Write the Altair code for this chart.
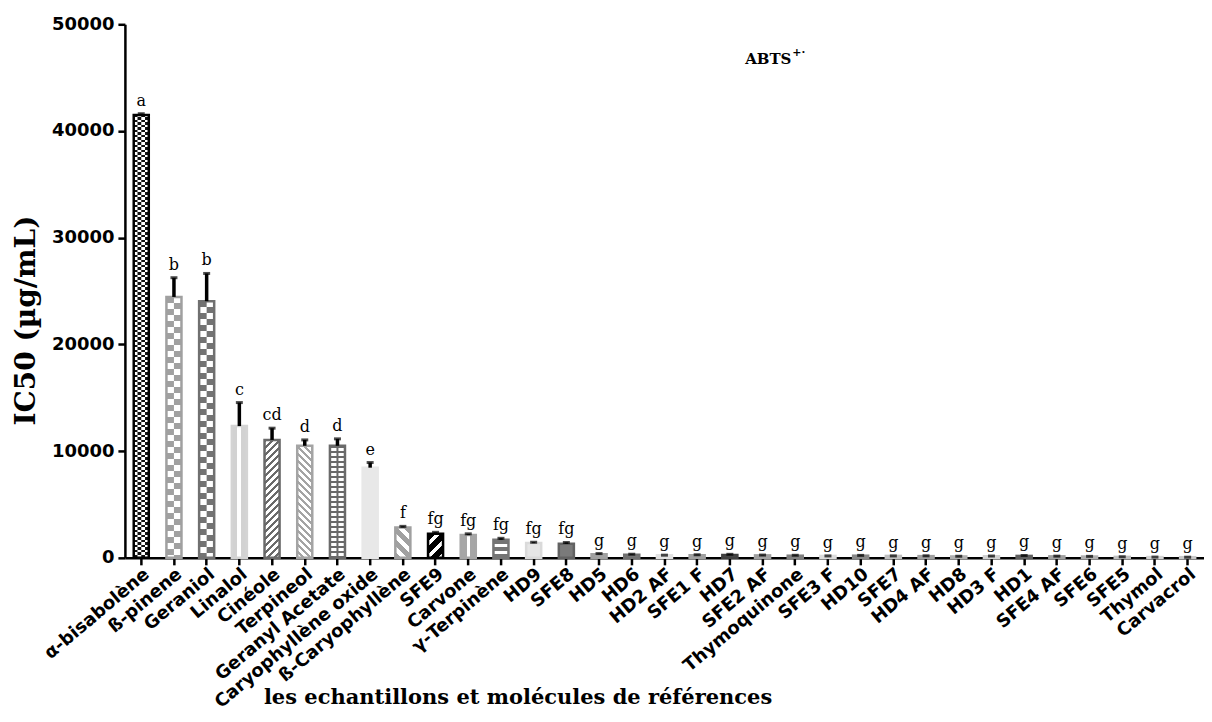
import altair as alt
import pandas as pd

categories = [
    "α-bisabolène", "ß-pinene", "Geraniol", "Linalol", "Cinéole", "Terpineol",
    "Geranyl Acetate", "Caryophyllène oxide", "ß-Caryophyllène", "SFE9", "Carvone",
    "γ-Terpinène", "HD9", "SFE8", "HD5", "HD6", "HD2 AF", "SFE1 F", "HD7", "SFE2 AF",
    "Thymoquinone", "SFE3 F", "HD10", "SFE7", "HD4 AF", "HD8", "HD3 F", "HD1",
    "SFE4 AF", "SFE6", "SFE5", "Thymol", "Carvacrol",
]
means = [
    41500, 24450, 24050, 12350, 11050, 10500, 10500, 8450, 2850, 2250, 2150,
    1700, 1380, 1320, 340, 290, 250, 250, 270, 230, 200, 180, 200, 180, 160,
    130, 150, 180, 140, 120, 90, 70, 60,
]
sds = [
    120, 1800, 2600, 2200, 1100, 550, 650, 480, 100, 140, 100, 130, 80, 120,
    60, 50, 0, 40, 60, 30, 40, 0, 30, 0, 30, 20, 20, 40, 20, 20, 10, 0, 0,
]
letters = [
    "a", "b", "b", "c", "cd", "d", "d", "e", "f", "fg", "fg", "fg", "fg", "fg",
    "g", "g", "g", "g", "g", "g", "g", "g", "g", "g", "g", "g", "g", "g", "g",
    "g", "g", "g", "g",
]

# ---- styles (kept apart from the data) ----
fill_range = [
    "#666666", "#cdcdcd", "#ababab", "#e2e2e2", "#a6a6a6", "#cfcfcf", "#a2a2a2",
    "#e8e8e8", "#d2d2d2", "#6e6e6e", "#bcbcbc", "#a6a6a6", "#e6e6e6", "#7a7a7a",
    "#a4a4a4", "#7a7a7a", "#e6e6e6", "#a8a8a8", "#555555", "#a8a8a8", "#8a8a8a",
    "#e2e2e2", "#8c8c8c", "#c8c8c8", "#a8a8a8", "#bdbdbd", "#d8d8d8", "#707070",
    "#a8a8a8", "#b8b8b8", "#c8c8c8", "#dcdcdc", "#cfcfcf",
]
stroke_range = [
    "#000000", "#a0a0a0", "#707070", "#d4d4d4", "#6a6a6a", "#a4a4a4", "#6a6a6a",
    "#e8e8e8", "#a0a0a0", "#000000", "#a6a6a6", "#747474", "#dadada", "#626262",
    "#a0a0a0", "#707070", "#e2e2e2", "#a0a0a0", "#404040", "#a0a0a0", "#808080",
    "#dcdcdc", "#888888", "#c0c0c0", "#a0a0a0", "#b0b0b0", "#d0d0d0", "#606060",
    "#a0a0a0", "#b0b0b0", "#c0c0c0", "#d4d4d4", "#c8c8c8",
]

title_main = "ABTS"
title_sup = "+·"
x_title = "les echantillons et molécules de références"
y_title = "IC50 (µg/mL)"

PLOT_W, PLOT_H = 1080, 534
Y_MAX = 50000
P_IN, P_OUT = 0.54, 0.27
STEP = PLOT_W / (len(categories) - P_IN + 2 * P_OUT)
BAR_W = STEP * (1 - P_IN)

df = pd.DataFrame({"cat": categories, "mean": means, "sd": sds, "letter": letters})
df["top"] = df["mean"] + df["sd"]

x_enc = alt.X(
    "cat:N",
    sort=categories,
    scale=alt.Scale(paddingInner=P_IN, paddingOuter=P_OUT),
    axis=alt.Axis(
        title=x_title,
        titleFont="DejaVu Serif",
        titleFontSize=21,
        titleFontWeight="bold",
        titleColor="black",
        titleX=393,
        titleY=140,
        titleBaseline="middle",
        titleAlign="center",
        labelAngle=-40,
        labelAlign="right",
        labelBaseline="top",
        labelFont="DejaVu Sans",
        labelFontWeight="bold",
        labelFontSize=18,
        labelColor="black",
        labelPadding=0,
        labelLimit=400,
        labelOverlap=False,
        tickSize=7,
        tickWidth=2.5,
        tickColor="black",
        domainWidth=2.5,
        domainColor="black",
    ),
)
x_plain = alt.X("cat:N", sort=categories)
y_scale = alt.Scale(domain=[0, Y_MAX], nice=False)
y_axis = alt.Axis(
    title=y_title,
    titleFont="DejaVu Serif",
    titleFontSize=28,
    titleFontWeight="bold",
    titleColor="black",
    titleX=-98,
    titleY=296,
    titleAngle=270,
    titleAlign="center",
    titleBaseline="middle",
    values=[0, 10000, 20000, 30000, 40000, 50000],
    format="d",
    labelFont="DejaVu Sans",
    labelFontWeight="bold",
    labelFontSize=18,
    labelColor="black",
    labelPadding=4,
    tickSize=7,
    tickWidth=2.5,
    tickColor="black",
    domainWidth=2.5,
    domainColor="black",
    grid=False,
)

base = alt.Chart(df)

# ---- pattern helpers (fill gradients emulating the hatch patterns) ----
def band_stops(parts, period, length):
    stops, pos = [], 0.0
    while pos < length - 1e-6:
        for color, frac in parts:
            a = pos / length
            b = min((pos + frac * period) / length, 1.0)
            stops += [(round(a, 5), color), (round(b, 5), color)]
            pos += frac * period
            if pos >= length - 1e-6:
                break
    return stops


def grad(stops, x1, y1, x2, y2):
    return alt.LinearGradient(
        gradient="linear",
        stops=[alt.GradientStop(offset=o, color=c) for o, c in stops],
        x1=x1, y1=y1, x2=x2, y2=y2,
    )


def bar_h(name):
    return means[categories.index(name)] / Y_MAX * PLOT_H


def horiz(name, parts, period):
    h = bar_h(name)
    return grad(band_stops(parts, period, h), 0, 0, 0, 1)


def vstripe(dark, light, a, b):
    return grad([(0, dark), (a, dark), (a, light), (b, light), (b, dark), (1, dark)], 0, 0, 1, 0)


def diag(name, parts, period, rising=True):
    w, h = BAR_W, bar_h(name)
    c = (w + h) / (h + w * w / h)
    stops = band_stops(parts, period, w + h)
    if rising:
        return grad(stops, 0, 0, c * w / h, c)
    return grad(stops, 1, 0, 1 - c * w / h, c)


def pattern_layer(name, fill, width=None, offset=0):
    kw = {"fill": fill, "strokeWidth": 0}
    if width is not None:
        kw["width"] = width
        kw["xOffset"] = offset
    return (
        base.transform_filter(alt.datum.cat == name)
        .mark_bar(**kw)
        .encode(x=x_plain, y=alt.Y("mean:Q"))
    )


W = "#ffffff"
K = "#111111"
patterns = [
    # fine black/white checker: stripes + inverse stripes on alternate quarter columns
    pattern_layer("α-bisabolène", horiz("α-bisabolène", [(K, 0.5), (W, 0.5)], 5)),
    pattern_layer("α-bisabolène", horiz("α-bisabolène", [(W, 0.5), (K, 0.5)], 5),
                  width=BAR_W / 4, offset=-BAR_W / 8),
    pattern_layer("α-bisabolène", horiz("α-bisabolène", [(W, 0.5), (K, 0.5)], 5),
                  width=BAR_W / 4, offset=3 * BAR_W / 8),
    # checkers: stripes on the full bar + inverse stripes on the right half
    pattern_layer("ß-pinene", horiz("ß-pinene", [("#a0a0a0", 0.5), (W, 0.5)], 12)),
    pattern_layer("ß-pinene", horiz("ß-pinene", [(W, 0.5), ("#a0a0a0", 0.5)], 12),
                  width=BAR_W / 2, offset=BAR_W / 4),
    pattern_layer("Geraniol", horiz("Geraniol", [("#737373", 0.5), (W, 0.5)], 12)),
    pattern_layer("Geraniol", horiz("Geraniol", [(W, 0.5), ("#737373", 0.5)], 12),
                  width=BAR_W / 2, offset=BAR_W / 4),
    pattern_layer("Linalol", vstripe("#d2d2d2", W, 0.36, 0.64)),
    pattern_layer("Cinéole", diag("Cinéole", [("#6a6a6a", 0.4), (W, 0.6)], 7, True)),
    pattern_layer("Terpineol", diag("Terpineol", [("#a4a4a4", 0.45), (W, 0.55)], 7, False)),
    pattern_layer("Geranyl Acetate", horiz("Geranyl Acetate", [("#6a6a6a", 0.4), (W, 0.6)], 5)),
    pattern_layer("Geranyl Acetate", alt.LinearGradient(
        gradient="linear", stops=[alt.GradientStop(offset=0, color="#6a6a6a"),
                                  alt.GradientStop(offset=1, color="#6a6a6a")],
        x1=0, y1=0, x2=1, y2=0), width=2, offset=0),
    pattern_layer("ß-Caryophyllène",
                  diag("ß-Caryophyllène", [("#a0a0a0", 0.6), (W, 0.4)], 13, False)),
    pattern_layer("SFE9", diag("SFE9", [("#000000", 0.62), (W, 0.38)], 13, True)),
    pattern_layer("Carvone", vstripe("#a6a6a6", W, 0.4, 0.6)),
    pattern_layer("γ-Terpinène", horiz("γ-Terpinène", [("#747474", 0.6), (W, 0.4)], 7)),
]

bars = base.mark_bar(strokeWidth=0).encode(
    x=x_enc,
    y=alt.Y("mean:Q", scale=y_scale, axis=y_axis),
    fill=alt.Fill("cat:N", sort=categories,
                  scale=alt.Scale(domain=categories, range=fill_range), legend=None),
)
outlines = base.mark_bar(strokeWidth=2.5, fillOpacity=0).encode(
    x=x_plain,
    y=alt.Y("mean:Q"),
    stroke=alt.Stroke("cat:N", sort=categories,
                      scale=alt.Scale(domain=categories, range=stroke_range), legend=None),
)

err = base.mark_rule(strokeWidth=3.5, color="black").encode(
    x=x_plain,
    y="mean:Q",
    y2="top:Q",
)
caps = base.mark_tick(color="black", thickness=3, size=7).encode(
    x=x_plain,
    y="top:Q",
)
labels = base.mark_text(
    font="DejaVu Serif", fontSize=16, color="black", baseline="alphabetic", dy=-8
).encode(
    x=x_plain,
    y="top:Q",
    text="letter:N",
)

tdf = pd.DataFrame({"t": [title_main], "s": [title_sup]})
title1 = alt.Chart(tdf).mark_text(
    font="DejaVu Serif", fontSize=15, fontWeight="bold", color="black",
    align="right", baseline="alphabetic",
).encode(x=alt.value(667), y=alt.value(40), text="t:N")
title2 = alt.Chart(tdf).mark_text(
    font="DejaVu Serif", fontSize=11, fontWeight="bold", color="black",
    align="left", baseline="alphabetic",
).encode(x=alt.value(668), y=alt.value(32), text="s:N")

chart = (
    alt.layer(bars, *patterns, outlines, err, caps, labels, title1, title2)
    .properties(
        width=PLOT_W,
        height=PLOT_H,
        autosize=alt.AutoSizeParams(type="none"),
        padding={"left": 117, "top": 16, "right": 0, "bottom": 160},
        background="white",
    )
    .configure_view(stroke=None)
)

chart.save("out.html", embed_options={"renderer": "svg", "actions": False})
